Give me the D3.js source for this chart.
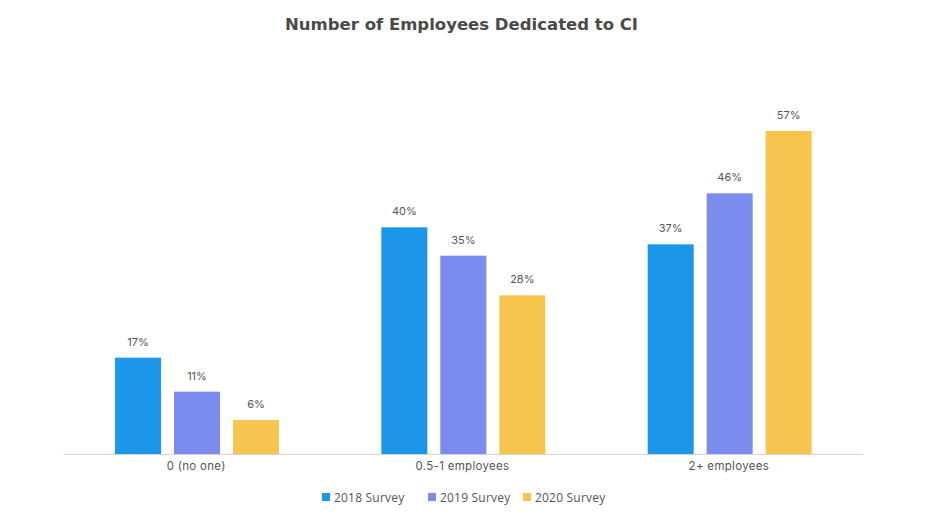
<!DOCTYPE html>
<html><head><meta charset="utf-8">
<script src="https://cdn.jsdelivr.net/npm/d3@7"></script>
<style>body{margin:0;background:#fff}svg{display:block}</style>
</head><body>
<svg id="c" width="928" height="519"></svg>
<script>
const categories = ["0 (no one)", "0.5-1 employees", "2+ employees"];
const seriesNames = ["2018 Survey", "2019 Survey", "2020 Survey"];
const s2018 = [17, 40, 37];
const s2019 = [11, 35, 46];
const s2020 = [6, 28, 57];
const colors = ["#1b96e9", "#7b8cee", "#f5c54d"];

const values = [s2018, s2019, s2020];
const svg = d3.select("#c");
const left = 63, right = 862, base = 454;
const x0 = d3.scaleBand().domain(categories).range([left, right]);
const x1 = d3.scaleBand().domain(seriesNames).range([52, 216]).paddingInner(0.22);
const y = d3.scaleLinear().domain([0, 60]).range([base, base - 340]);

svg.append("text").attr("x", 461.5).attr("y", 30).attr("text-anchor", "middle")
  .attr("font-family", "DejaVu Sans").attr("font-weight", 700).attr("font-size", 16.5)
  .attr("textLength", 353).attr("lengthAdjust", "spacingAndGlyphs")
  .attr("fill", "#4a4a4a").text("Number of Employees Dedicated to CI");

const g = svg.append("g");
categories.forEach((c, ci) => {
  seriesNames.forEach((s, si) => {
    const v = values[si][ci];
    const bx = x0(c) + x1(s);
    g.append("rect").attr("x", bx).attr("y", y(v)).attr("width", x1.bandwidth())
      .attr("height", y(0) - y(v)).attr("fill", colors[si]);
    g.append("text").attr("x", bx + x1.bandwidth() / 2).attr("y", y(v) - 12)
      .attr("text-anchor", "middle").attr("font-family", "Inter").attr("font-size", 11)
      .attr("fill", "#555").text(v + "%");
  });
});

const axis = svg.append("g").attr("transform", `translate(0,${base})`)
  .call(d3.axisBottom(x0).tickSize(0).tickPadding(8));
axis.select(".domain").attr("stroke", "#d6d6d6").attr("stroke-width", 1.2);
axis.selectAll("text").attr("font-family", "Inter").attr("font-size", 11.5)
  .attr("fill", "#555").attr("letter-spacing", "0.3px");

const legend = svg.append("g");
const lx = [322, 428, 523];
seriesNames.forEach((s, i) => {
  legend.append("rect").attr("x", lx[i]).attr("y", 493).attr("width", 8).attr("height", 8).attr("fill", colors[i]);
  legend.append("text").attr("x", lx[i] + 12).attr("y", 501.5).attr("font-family", "Open Sans")
    .attr("font-size", 12).attr("letter-spacing", "0.2px").attr("fill", "#555").text(s);
});
</script>
</body></html>
